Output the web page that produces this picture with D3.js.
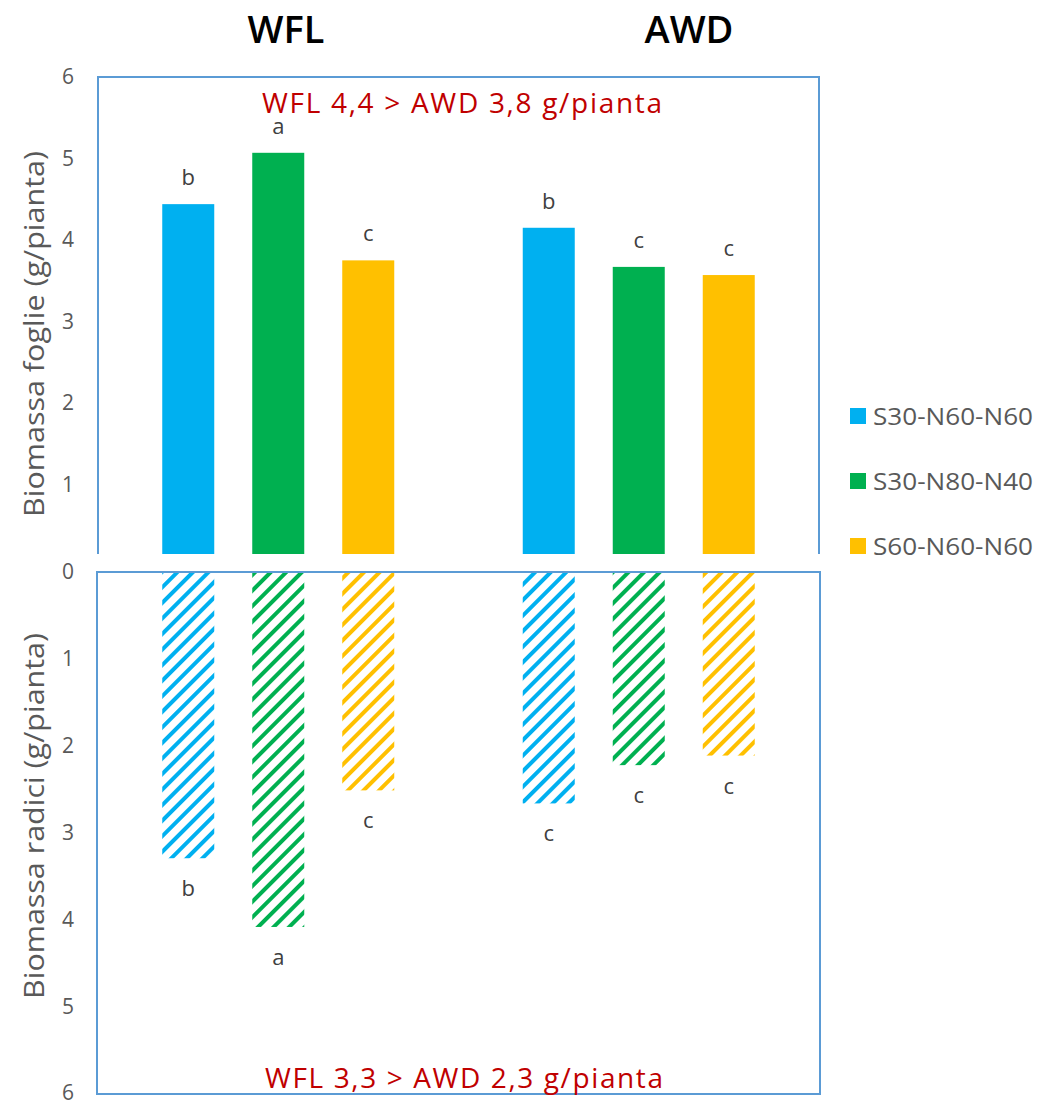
<!DOCTYPE html>
<html><head><meta charset="utf-8">
<script src="https://cdn.jsdelivr.net/npm/d3@7"></script>
<style>body{margin:0;background:#fff;} svg{display:block;font-family:"Open Sans","Noto Sans",sans-serif;}</style>
</head><body>
<svg id="c" width="1038" height="1104"></svg>
<script>
const groups = ["WFL", "AWD"];
const series = ["S30-N60-N60", "S30-N80-N40", "S60-N60-N60"];
const colors = ["#00B0F0", "#00B050", "#FFC000"];
const leafValues = [[4.44, 5.07, 3.75], [4.15, 3.67, 3.57]];
const leafLetters = [["b", "a", "c"], ["b", "c", "c"]];
const rootValues = [[3.29, 4.08, 2.51], [2.66, 2.22, 2.11]];
const rootLetters = [["b", "a", "c"], ["c", "c", "c"]];
const topTicks = [1, 2, 3, 4, 5, 6];
const bottomTicks = [0, 1, 2, 3, 4, 5, 6];
const topNote = "WFL 4,4 > AWD 3,8 g/pianta";
const bottomNote = "WFL 3,3 > AWD 2,3 g/pianta";
const topAxisTitle = "Biomassa foglie (g/pianta)";
const bottomAxisTitle = "Biomassa radici (g/pianta)";

const svg = d3.select("#c");
const L = 98, R = 819;
const axisColor = "#5B9BD5";
const textGrey = "#595959";

const x0 = d3.scaleBand().domain(groups).range([L, R]);
const x1 = d3.scaleBand().domain(series).range([-135, 135]).paddingInner(0.4222).paddingOuter(0.2111);

const yTop = d3.scaleLinear().domain([0, 6]).range([566, 77]);
const yBot = d3.scaleLinear().domain([0, 6]).range([572, 1094]);

// hatch patterns
const defs = svg.append("defs");
colors.forEach((c, i) => {
  const p = defs.append("pattern").attr("id", "h" + i).attr("patternUnits", "userSpaceOnUse")
    .attr("width", 11).attr("height", 11).attr("patternTransform", "rotate(45)");
  p.append("rect").attr("x", 0).attr("y", 0).attr("width", 4).attr("height", 11).attr("fill", c);
});
defs.append("clipPath").attr("id", "clipTop").append("rect").attr("x", L).attr("y", 60).attr("width", R - L).attr("height", 554 - 60);

// Titles
svg.selectAll(".gt").data([["WFL", 286], ["AWD", 689]]).join("text")
  .attr("x", d => d[1]).attr("y", 43).attr("text-anchor", "middle")
  .attr("font-size", 38).attr("font-weight", 600).attr("fill", "#000").text(d => d[0]);

// Top panel frame (no bottom border)
svg.append("path").attr("d", `M${L},554 V${yTop(6)} H${R} V554`).attr("fill", "none").attr("stroke", axisColor).attr("stroke-width", 2);

// top bars
const gTop = svg.append("g").attr("clip-path", "url(#clipTop)");
groups.forEach((g, gi) => {
  const cx = x0(g) + x0.bandwidth() / 2;
  gTop.selectAll(null).data(leafValues[gi]).join("rect")
    .attr("x", (d, i) => cx + x1(series[i])).attr("width", x1.bandwidth())
    .attr("y", d => yTop(d)).attr("height", d => yTop(0) - yTop(d))
    .attr("fill", (d, i) => colors[i]);
  svg.selectAll(null).data(leafValues[gi]).join("text")
    .attr("x", (d, i) => cx + x1(series[i]) + x1.bandwidth() / 2)
    .attr("y", d => yTop(d) - 19).attr("text-anchor", "middle")
    .attr("font-size", 22).attr("fill", "#404040").text((d, i) => leafLetters[gi][i]);
});

// bottom panel frame
svg.append("rect").attr("x", L - 1).attr("y", 572).attr("width", R - L + 2).attr("height", 1094 - 572)
  .attr("fill", "none").attr("stroke", axisColor).attr("stroke-width", 2);

groups.forEach((g, gi) => {
  const cx = x0(g) + x0.bandwidth() / 2;
  svg.selectAll(null).data(rootValues[gi]).join("rect")
    .attr("x", (d, i) => cx + x1(series[i])).attr("width", x1.bandwidth())
    .attr("y", yBot(0) + 1).attr("height", d => yBot(d) - yBot(0) - 1)
    .attr("fill", (d, i) => `url(#h${i})`);
  svg.selectAll(null).data(rootValues[gi]).join("text")
    .attr("x", (d, i) => cx + x1(series[i]) + x1.bandwidth() / 2)
    .attr("y", d => yBot(d) + 38).attr("text-anchor", "middle")
    .attr("font-size", 22).attr("fill", "#404040").text((d, i) => rootLetters[gi][i]);
});

// tick labels
svg.selectAll(".tt").data(topTicks).join("text")
  .attr("x", 68).attr("y", d => yTop(d) + 7).attr("text-anchor", "middle")
  .attr("font-size", 21).attr("fill", textGrey).text(d => d);
svg.selectAll(".bt").data(bottomTicks).join("text")
  .attr("x", 68).attr("y", d => Math.min(yBot(d) + 7, 1100)).attr("text-anchor", "middle")
  .attr("font-size", 21).attr("fill", textGrey).text(d => d);

// axis titles
svg.append("text").attr("transform", "translate(44,334) rotate(-90)").attr("text-anchor", "middle")
  .attr("font-size", 27).attr("fill", textGrey)
  .attr("textLength", 366).attr("lengthAdjust", "spacingAndGlyphs").text(topAxisTitle);
svg.append("text").attr("transform", "translate(44,816) rotate(-90)").attr("text-anchor", "middle")
  .attr("font-size", 27).attr("fill", textGrey)
  .attr("textLength", 366).attr("lengthAdjust", "spacingAndGlyphs").text(bottomAxisTitle);

// notes
svg.append("text").attr("x", 462).attr("y", 113).attr("text-anchor", "middle")
  .attr("font-size", 28).attr("fill", "#C00000")
  .attr("textLength", 400).attr("lengthAdjust", "spacing").text(topNote);
svg.append("text").attr("x", 464).attr("y", 1088).attr("text-anchor", "middle")
  .attr("font-size", 28).attr("fill", "#C00000")
  .attr("textLength", 398).attr("lengthAdjust", "spacing").text(bottomNote);

// legend
const lg = svg.append("g");
series.forEach((s, i) => {
  const y = 416 + i * 65;
  lg.append("rect").attr("x", 850).attr("y", y - 8).attr("width", 16).attr("height", 16).attr("fill", colors[i]);
  lg.append("text").attr("x", 873).attr("y", y + 9).attr("font-size", 24).attr("fill", textGrey)
    .attr("textLength", 160).attr("lengthAdjust", "spacingAndGlyphs").text(s);
});
</script>
</body></html>
